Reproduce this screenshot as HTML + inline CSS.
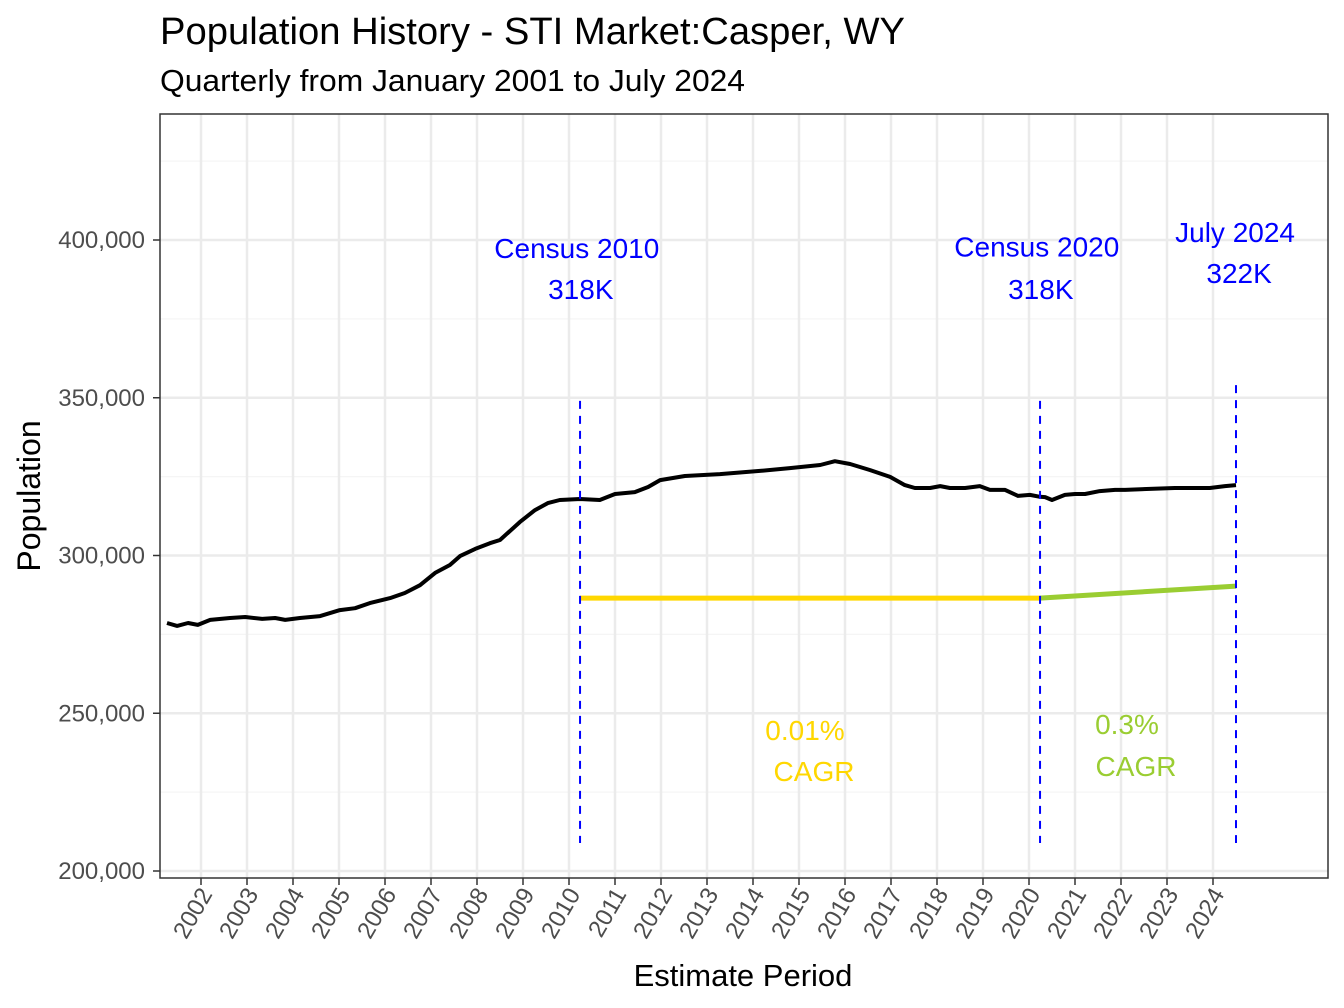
<!DOCTYPE html>
<html><head><meta charset="utf-8"><style>body{margin:0;background:#fff}svg{display:block;font-family:"Liberation Sans",Arial,sans-serif}</style></head>
<body>
<svg id="chart" width="1344" height="1008" viewBox="0 0 1344 1008" xmlns="http://www.w3.org/2000/svg">
<rect width="1344" height="1008" fill="#fff"/>
<text x="160" y="44" font-size="38" textLength="745" lengthAdjust="spacingAndGlyphs" fill="#000">Population History - STI Market:Casper, WY</text>
<text x="160" y="91" font-size="31" textLength="585" lengthAdjust="spacingAndGlyphs" fill="#000">Quarterly from January 2001 to July 2024</text>
<g id="grid"></g>
<g id="marks"></g>
<rect x="160" y="114" width="1168" height="764" fill="none" stroke="#333" stroke-width="1.5"/>
<g id="axes"></g>
<text x="743" y="986" font-size="31" text-anchor="middle" fill="#000">Estimate Period</text>
<text transform="translate(40,496) rotate(-90)" font-size="32" text-anchor="middle" fill="#000">Population</text>
</svg>
<script>
const years = [2001.26,2001.48,2001.72,2001.93,2002.2,2002.63,2002.96,2003.33,2003.61,2003.83,2004.15,2004.59,2005.02,2005.35,2005.67,2006.11,2006.43,2006.76,2007.09,2007.41,2007.63,2007.96,2008.28,2008.5,2008.93,2009.26,2009.54,2009.8,2010.24,2010.67,2011.0,2011.43,2011.72,2011.98,2012.52,2013.28,2014.15,2014.8,2015.46,2015.78,2016.11,2016.54,2016.98,2017.3,2017.52,2017.85,2018.07,2018.28,2018.61,2018.93,2019.15,2019.48,2019.76,2020.02,2020.24,2020.35,2020.5,2020.78,2021.0,2021.22,2021.54,2021.87,2022.09,2022.63,2023.17,2023.93,2024.26,2024.5];
const population = [278600,277700,278600,278000,279600,280200,280500,279900,280200,279600,280200,280800,282700,283300,284900,286500,288100,290600,294500,297000,299800,302100,303900,304900,310600,314400,316600,317600,317900,317600,319500,320100,321700,323900,325200,325800,326800,327700,328700,329900,329000,327100,324900,322300,321400,321400,322000,321400,321400,322000,320800,320800,318900,319200,318600,318500,317600,319200,319500,319500,320400,320800,320800,321100,321400,321400,322000,322300];
const cagr2010 = {start:2010.24, end:2020.24, v0:286500, v1:286500};
const cagr2020 = {start:2020.24, end:2024.5, v0:286500, v1:290300};
const yTicks = [200000,250000,300000,350000,400000];
const yTickLabels = ["200,000","250,000","300,000","350,000","400,000"];
const xTicks = [2002,2003,2004,2005,2006,2007,2008,2009,2010,2011,2012,2013,2014,2015,2016,2017,2018,2019,2020,2021,2022,2023,2024];
const vlines = [2010.24,2020.24,2024.5];
const vlineTops = [349000,349000,354000];
const annotLabels = [["Census 2010","318K"],["Census 2020","318K"],["July 2024","322K"]];
const annotValues = [[397500,384500],[398000,384500],[402500,389500]];
const annotX = [2010.17,2020.17,2024.48];

const NS="http://www.w3.org/2000/svg";
const X = t => 201 + (t-2002)*46;
const Y = v => 240 + (400000-v)/50000*157.75;
function mk(tag, attrs, parent){const e=document.createElementNS(NS,tag);for(const k in attrs)e.setAttribute(k,attrs[k]);parent.appendChild(e);return e;}
const grid=document.getElementById('grid'), marks=document.getElementById('marks'), axes=document.getElementById('axes');
mk('rect',{x:160,y:114,width:1168,height:764,fill:'#fff'},grid);
for(let v=175000; v<=425000; v+=25000){
  if(Y(v)<114||Y(v)>878) continue;
  const major = v%50000===0;
  const l=mk('line',{x1:160,x2:1328,y1:Y(v),y2:Y(v),stroke:major?'#ebebeb':'#f5f5f5','stroke-width':major?2.5:1.2},grid);
  
  
}
xTicks.forEach(t=>{
  const l=mk('line',{x1:X(t),x2:X(t),y1:114,y2:878,stroke:'#ebebeb','stroke-width':2.5},grid);
  
  
});
let c1=mk('line',{x1:X(cagr2010.start),x2:X(cagr2010.end),y1:Y(cagr2010.v0),y2:Y(cagr2010.v1),stroke:'#FFD700','stroke-width':5},marks);


let c2=mk('line',{x1:X(cagr2020.start),x2:X(cagr2020.end),y1:Y(cagr2020.v0),y2:Y(cagr2020.v1),stroke:'#9ACD32','stroke-width':5},marks);


const d=years.map((t,i)=>(i?'L':'M')+X(t).toFixed(1)+','+Y(population[i]).toFixed(1)).join(' ');
let pl=mk('path',{d:d,fill:'none',stroke:'#000','stroke-width':4,'stroke-linejoin':'round'},marks);


vlines.forEach((t,i)=>{
  const l=mk('line',{x1:X(t),x2:X(t),y1:Y(vlineTops[i]),y2:843,stroke:'#0000FF','stroke-width':2,'stroke-dasharray':'8,7'},marks);
  
  
  annotLabels[i].forEach((s,j)=>{
    const tx=mk('text',{x:X(annotX[i])+(j?4:0),y:Y(annotValues[i][j])+10,'font-size':28,fill:'#0000FF','text-anchor':'middle'},marks);
    tx.textContent=s;
    
    
  });
});
[["0.01%",805,740,'#FFD700'],["CAGR",814,781,'#FFD700'],["0.3%",1127,734,'#9ACD32'],["CAGR",1136,776,'#9ACD32']].forEach(a=>{
  const tx=mk('text',{x:a[1],y:a[2],'font-size':28,fill:a[3],'text-anchor':'middle'},marks);
  tx.textContent=a[0];
  
  
});
yTicks.forEach((v,i)=>{
  mk('line',{x1:153,x2:160,y1:Y(v),y2:Y(v),stroke:'#333','stroke-width':1.5},axes);
  const tx=mk('text',{x:145,y:Y(v)+8,'font-size':24,fill:'#4d4d4d','text-anchor':'end'},axes);
  tx.textContent=yTickLabels[i];
  
  
});
xTicks.forEach(t=>{
  mk('line',{x1:X(t),x2:X(t),y1:878,y2:885,stroke:'#333','stroke-width':1.5},axes);
  const tx=mk('text',{'font-size':24,fill:'#4d4d4d','text-anchor':'end',transform:`translate(${X(t)+12},${894}) rotate(-60)`},axes);
  tx.textContent=String(t);
  
  
});
</script>
</body></html>
